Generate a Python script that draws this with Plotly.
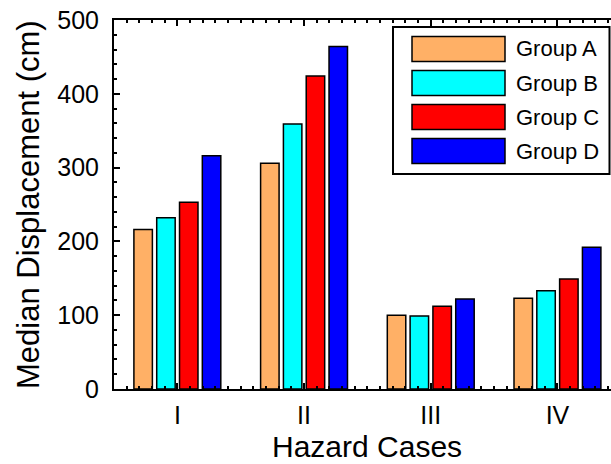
import plotly.graph_objects as go

cases = ["I", "II", "III", "IV"]
groups = ["Group A", "Group B", "Group C", "Group D"]
group_a = [216, 306, 100, 123]
group_b = [232, 359, 99, 133]
group_c = [253, 424, 112, 149]
group_d = [316, 464, 122, 192]
series = [group_a, group_b, group_c, group_d]
colors = ["#FFB066", "#00FFFF", "#FF0000", "#0000FF"]
y_ticks = [0, 100, 200, 300, 400, 500]

FONT = "Liberation Sans, Arial, sans-serif"
W, H = 611, 464
ML, MT, MB = 114, 20, 75
PW = W - ML
PH = H - MT - MB

fig = go.Figure()
xpos = list(range(len(cases)))
for name, vals, col in zip(groups, series, colors):
    fig.add_trace(go.Bar(
        x=xpos, y=vals, name=name,
        marker=dict(color=col, line=dict(color="black", width=1.5)),
        showlegend=False,
    ))

fig.update_layout(
    width=W, height=H,
    margin=dict(l=ML, r=0, t=MT, b=MB),
    paper_bgcolor="white", plot_bgcolor="white",
    barmode="group", bargap=0.28, bargroupgap=0.19,
    font=dict(family=FONT, color="black"),
)
fig.update_xaxes(
    range=[-0.5, -0.5 + PW / 126.7],
    tickmode="array", tickvals=xpos, ticktext=cases,
    ticks="inside", ticklen=6, tickwidth=1.5, tickcolor="black",
    minor=dict(dtick=0.1, tick0=0, ticks="inside", ticklen=3, tickwidth=1.5, tickcolor="black"),
    showline=True, linewidth=2, linecolor="black", mirror="allticks",
    showgrid=False, zeroline=False,
    tickfont=dict(size=25, family=FONT, color="black"),
    ticklabelstandoff=3,
)
fig.update_yaxes(
    range=[0, 500],
    tickmode="array", tickvals=y_ticks,
    ticks="inside", ticklen=6, tickwidth=1.5, tickcolor="black",
    minor=dict(dtick=20, tick0=0, ticks="inside", ticklen=3, tickwidth=1.5, tickcolor="black"),
    showline=True, linewidth=2, linecolor="black",
    showgrid=False, zeroline=False,
    tickfont=dict(size=25, family=FONT, color="black"),
    ticklabelstandoff=8,
)

def px_x(p):
    return (p - ML) / PW

def px_y(p):
    return (MT + PH - p) / PH

# axis titles
fig.add_annotation(
    text="Hazard Cases", xref="paper", yref="paper",
    x=px_x(367), y=px_y(446), xanchor="center", yanchor="middle",
    showarrow=False, font=dict(size=30, family=FONT, color="black"),
)
fig.add_annotation(
    text="Median Displacement (cm)", xref="paper", yref="paper",
    x=px_x(29), y=px_y(205), xanchor="center", yanchor="middle", textangle=-90,
    showarrow=False, font=dict(size=31, family=FONT, color="black"),
)

# legend box
fig.add_shape(type="rect", xref="paper", yref="paper",
              x0=px_x(393), x1=px_x(609.5), y0=px_y(174), y1=px_y(27),
              line=dict(color="black", width=2), fillcolor="white", layer="above")
row_centers = [49, 83, 117, 151]
for name, col, cy in zip(groups, colors, row_centers):
    fig.add_shape(type="rect", xref="paper", yref="paper",
                  x0=px_x(412), x1=px_x(505), y0=px_y(cy + 12.5), y1=px_y(cy - 12.5),
                  line=dict(color="black", width=1.5), fillcolor=col, layer="above")
    fig.add_annotation(text=name, xref="paper", yref="paper",
                       x=px_x(514), y=px_y(cy), xanchor="left", yanchor="middle",
                       showarrow=False, font=dict(size=22, family=FONT, color="black"))

fig.write_html("out.html")
